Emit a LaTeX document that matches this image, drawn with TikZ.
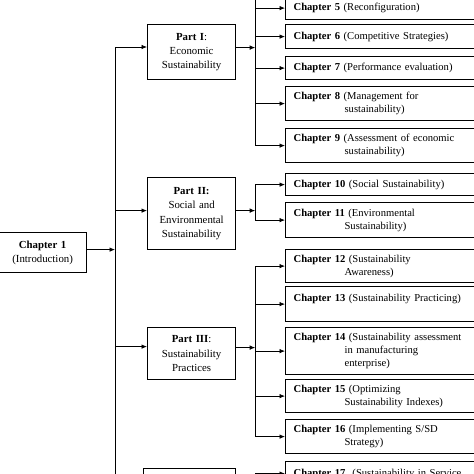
\documentclass[tikz,border=0pt]{standalone}
\usepackage{fontspec}
\setmainfont{Liberation Serif}
\usepackage{tikz}
\usetikzlibrary{arrows.meta}
\usetikzlibrary{positioning}
\tikzset{arr/.style = {-{Latex[length=5.5pt, width=4.5pt]}, line width=0.7pt}}
\tikzset{bus/.style = {line width=0.7pt}}
\tikzset{part/.style = {draw, line width=1.2pt, anchor=north west, inner sep=0,
                        text width=88pt, align=center,
                        font=\fontsize{10.8}{14.3}\selectfont}}
\tikzset{chap/.style = {draw, line width=1.2pt, anchor=north west, inner xsep=8pt,
                        inner ysep=0, text width=200pt, align=left,
                        font=\fontsize{10.6}{13}\selectfont}}
\newcommand{\hang}{\hspace*{51pt}}

\begin{document}
\begin{tikzpicture}[x=1pt, y=-1pt]
      \useasboundingbox (0, 0) rectangle (474, 474);
      \clip (0, 0) rectangle (474, 474);

      % left column
      \node [part, text width=88pt, minimum height=40] (ch1) at (-2, 232)
            {\textbf{Chapter 1}\\(Introduction)};

      % parts
      \node [part, minimum height=55] (p1) at (147, 24)
            {\textbf{Part I}:\\Economic\\Sustainability};
      \node [part, minimum height=72] (p2) at (147, 177)
            {\textbf{Part II:}\\Social and\\Environmental\\Sustainability};
      \node [part, minimum height=52] (p3) at (147, 327)
            {\textbf{Part III}:\\Sustainability\\Practices};
      \node [part, text width=92pt, minimum height=50] (p4) at (143, 468) {};

      % chapters
      \node [chap, minimum height=23] (ch5) at (285, -4)
            {\textbf{Chapter 5} (Reconfiguration)};
      \node [chap, minimum height=24] (ch6) at (285, 24)
            {\textbf{Chapter 6} (Competitive Strategies)};
      \node [chap, minimum height=23] (ch7) at (285, 56)
            {\textbf{Chapter 7} (Performance evaluation)};
      \node [chap, minimum height=34] (ch8) at (285, 86)
            {\textbf{Chapter 8} (Management for\\\hang sustainability)};
      \node [chap, minimum height=34] (ch9) at (285, 128)
            {\textbf{Chapter 9} (Assessment of economic\\\hang sustainability)};
      \node [chap, minimum height=22] (ch10) at (285, 173)
            {\textbf{Chapter 10} (Social Sustainability)};
      \node [chap, minimum height=35] (ch11) at (285, 202)
            {\textbf{Chapter 11} (Environmental\\\hang Sustainability)};
      \node [chap, minimum height=33] (ch12) at (285, 249)
            {\textbf{Chapter 12} (Sustainability\\\hang Awareness)};
      \node [chap, minimum height=35] (ch13) at (285, 286)
            {\textbf{Chapter 13} (Sustainability Practicing)\\\mbox{}};
      \node [chap, minimum height=47] (ch14) at (285, 327)
            {\textbf{Chapter 14} (Sustainability assessment\\\hang in manufacturing\\\hang enterprise)};
      \node [chap, minimum height=33] (ch15) at (285, 379)
            {\textbf{Chapter 15} (Optimizing\\\hang Sustainability Indexes)};
      \node [chap, minimum height=34] (ch16) at (285, 419)
            {\textbf{Chapter 16} (Implementing S/SD\\\hang Strategy)};
      \node [chap, minimum height=24] (ch17) at (285, 461)
            {\textbf{Chapter 17}\ \ (Sustainability in Service};

      % main bus
      \coordinate (m) at (115, 47);
      \draw [bus] (m) -- ++(0, 460);
      \draw [arr] ([yshift=3pt]ch1.east) -- ([yshift=3pt]ch1.east -| m);
      \draw [arr] (m) -- (m -| p1.west);
      \draw [arr] ([yshift=3pt]p2.west -| m) -- ([yshift=3pt]p2.west);
      \draw [arr] ([yshift=7pt]p3.west -| m) -- ([yshift=7pt]p3.west);
      \draw [arr] (p4.west -| m) -- (p4.west);

      % part buses
      \draw [arr] ([yshift=4.5pt]p1.east) -- ++(19, 0) coordinate (j1);
      \draw [bus] (j1) -- ++(0, -60);
      \foreach \c in {ch5, ch6, ch7, ch8, ch9}
        \draw [arr] (j1) |- (\c.west);

      \draw [arr] ([yshift=3pt]p2.east) -- ++(19, 0) coordinate (j2);
      \foreach \c in {ch10, ch11}
        \draw [arr] (j2) |- (\c.west);

      \draw [arr] ([yshift=6pt]p3.east) -- ++(19, 0) coordinate (j3);
      \foreach \c in {ch12, ch13, ch14, ch15, ch16}
        \draw [arr] (j3) |- (\c.west);

      \draw [arr] (p4.east) -- ++(19, 0) coordinate (j4);
      \draw [arr] (j4) |- (ch17.west);
    \end{tikzpicture}
\end{document}
